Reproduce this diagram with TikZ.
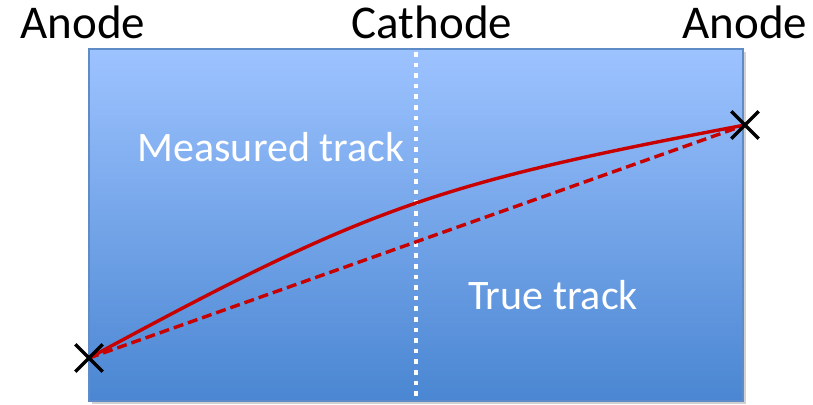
\documentclass[tikz,border=0pt]{standalone}
\usepackage{fontspec}
\setmainfont{Carlito}
\usetikzlibrary{positioning,shapes.misc}
\definecolor{boxtop}{HTML}{9DC3FF}
\definecolor{boxbot}{HTML}{4A86D2}
\definecolor{boxedge}{HTML}{5F8BC8}
\definecolor{trackred}{HTML}{C80000}

\begin{document}
\begin{tikzpicture}[x=1pt, y=-1pt,
  lbl/.style={font=\fontsize{47}{50}\selectfont, anchor=base, inner sep=0pt},
  inlbl/.style={font=\fontsize{42}{45}\selectfont, text=white, anchor=base, inner sep=0pt},
  trk/.style={draw=trackred, line width=3.4pt},
  xmark/.style={draw=black, cross out, line width=3.4pt, minimum size=24pt, inner sep=0pt}]
\useasboundingbox (0,0) rectangle (813,404);
% chamber with shadow
\fill[black!18] (92,52) rectangle (746,404);
\shade[top color=boxtop, bottom color=boxbot, draw=boxedge, line width=1.2pt] (89,49) rectangle (743,401);
% cathode plane
\coordinate (ctop) at (416,52);
\coordinate (cbot) at (416,401);
\draw[white, line width=4.6pt, dash pattern=on 4.6pt off 6pt] (ctop) -- (cbot);
% labels
\node[lbl] (anodeL) at (83,38) {Anode};
\node[lbl] (cathode) at (432,38) {Cathode};
\node[lbl] (anodeR) at (745,38) {Anode};
\node[inlbl] (meas) at (271,161) {Measured track};
\node[inlbl] (truetrk) at (553,309) {True track};
% tracks
\coordinate (hitA) at (89,358);
\coordinate (hitB) at (745,125);
\draw[trk] (hitA) .. controls (368,207) and (433,184) .. (hitB);
\draw[trk, dash pattern=on 10pt off 5pt] (hitA) -- (hitB);
\node[xmark] (xA) at (hitA) {};
\node[xmark] (xB) at (hitB) {};
\end{tikzpicture}
\end{document}
